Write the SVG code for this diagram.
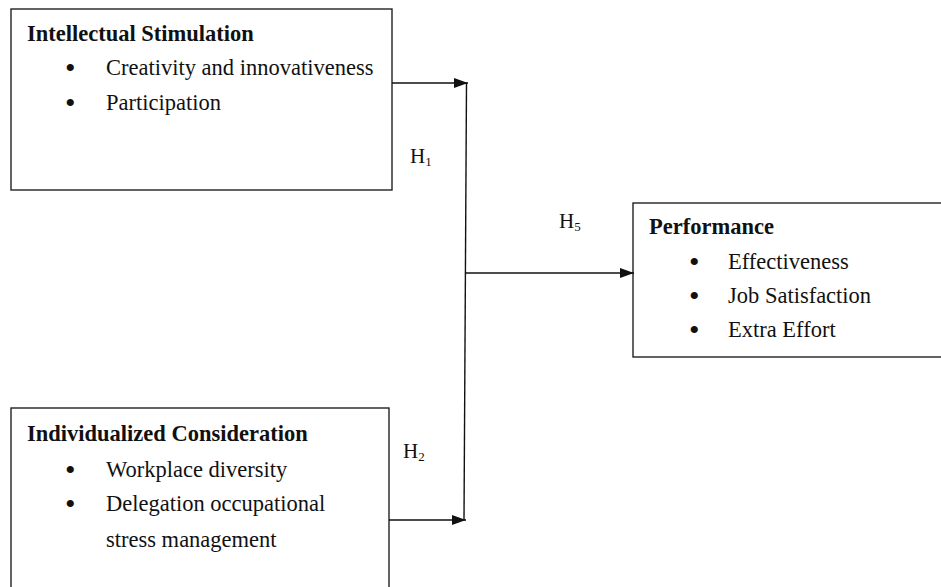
<svg xmlns="http://www.w3.org/2000/svg" width="941" height="587" viewBox="0 0 941 587">
<defs>
<marker id="arr" markerWidth="14" markerHeight="10" refX="14" refY="5" orient="auto" markerUnits="userSpaceOnUse">
<path d="M0,0 L14,5 L0,10 Z" fill="#111"/>
</marker>
<style>
.box{fill:#fff;stroke:#222;stroke-width:1.4}
.t{font-family:"Liberation Serif","Times New Roman",serif;font-size:22.5px;fill:#111}
.b{font-weight:bold}
.d{font-family:"Liberation Serif","Times New Roman",serif;font-size:30px;fill:#111}
.h{font-family:"Liberation Serif","Times New Roman",serif;font-size:21px;fill:#111}
.s{font-size:13px}
.c{fill:none;stroke:#111;stroke-width:1.4}
</style>
</defs>
<rect width="941" height="587" fill="#fff"/>
<g id="intellectual">
<rect class="box" x="11" y="9" width="381" height="181"/>
<text class="t b" x="27" y="41">Intellectual Stimulation</text>
<text class="d" x="65" y="78">•</text>
<text class="t" x="106" y="75">Creativity and innovativeness</text>
<text class="d" x="65" y="113">•</text>
<text class="t" x="106" y="110">Participation</text>
</g>
<g id="individualized">
<rect class="box" x="11" y="408" width="378" height="200"/>
<text class="t b" x="27" y="441">Individualized Consideration</text>
<text class="d" x="65" y="480">•</text>
<text class="t" x="106" y="477">Workplace diversity</text>
<text class="d" x="65" y="514">•</text>
<text class="t" x="106" y="511">Delegation occupational</text>
<text class="t" x="106" y="547">stress management</text>
</g>
<g id="performance">
<rect class="box" x="633" y="203" width="330" height="154"/>
<text class="t b" x="649" y="234">Performance</text>
<text class="d" x="689" y="272">•</text>
<text class="t" x="728" y="269">Effectiveness</text>
<text class="d" x="689" y="306">•</text>
<text class="t" x="728" y="303">Job Satisfaction</text>
<text class="d" x="689" y="340">•</text>
<text class="t" x="728" y="337">Extra Effort</text>
</g>
<g id="connectors">
<line class="c" x1="392" y1="83" x2="468" y2="83" marker-end="url(#arr)"/>
<line class="c" x1="466.5" y1="83" x2="464" y2="520"/>
<line class="c" x1="389" y1="520" x2="466" y2="520" marker-end="url(#arr)"/>
<line class="c" x1="465" y1="273" x2="634" y2="273" marker-end="url(#arr)"/>
<text class="h" x="410" y="163">H<tspan class="s" dy="3">1</tspan></text>
<text class="h" x="403" y="458">H<tspan class="s" dy="3">2</tspan></text>
<text class="h" x="559" y="228">H<tspan class="s" dy="3">5</tspan></text>
</g>
</svg>
